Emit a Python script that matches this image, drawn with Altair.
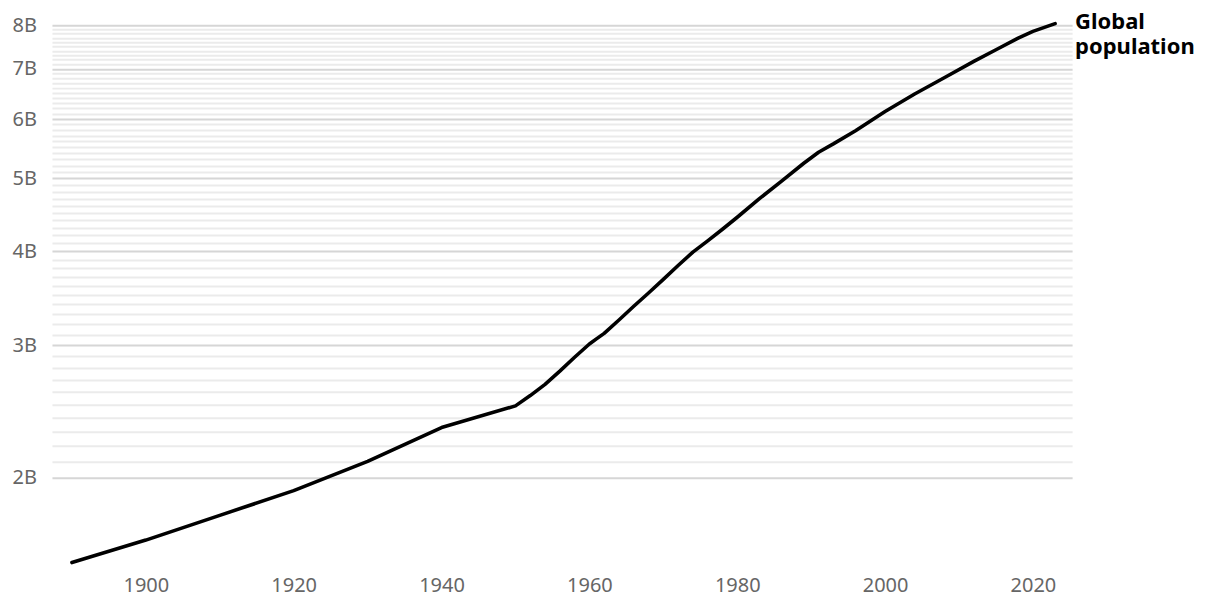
import altair as alt
import pandas as pd

years = [1890, 1900, 1910, 1920, 1930, 1940, 1950, 1952, 1954, 1956, 1958, 1960, 1961, 1962,
         1964, 1966, 1968, 1970, 1972, 1974, 1976, 1978, 1980, 1983, 1986, 1989, 1991, 1993,
         1996, 2000, 2004, 2008, 2012, 2015, 2018, 2020, 2023]
population_b = [1.54, 1.65, 1.78, 1.92, 2.10, 2.33, 2.49, 2.57, 2.66, 2.77, 2.89, 3.01, 3.06, 3.11,
                3.24, 3.38, 3.52, 3.67, 3.83, 3.99, 4.13, 4.28, 4.44, 4.70, 4.96, 5.24, 5.42, 5.56,
                5.79, 6.14, 6.48, 6.81, 7.16, 7.42, 7.69, 7.85, 8.04]

grid_values = [round(2 + 0.1 * i, 1) for i in range(61)]
x_ticks = [1900, 1920, 1940, 1960, 1980, 2000, 2020]
label_text = ["Global", "population"]

df = pd.DataFrame({"year": years, "pop": population_b})
lab = pd.DataFrame({"year": [years[-1]], "pop": [population_b[-1]], "text": [label_text]})

FONT = "Noto Sans"

x = alt.X("year:Q", scale=alt.Scale(domain=[1887.3, 2025.3], nice=False, zero=False),
          axis=alt.Axis(values=x_ticks, format="d", grid=False, domain=False, ticks=False,
                        labelPadding=4, title=None))
y = alt.Y("pop:Q", scale=alt.Scale(type="log", domain=[1.5, 8.1], nice=False, zero=False),
          axis=alt.Axis(values=grid_values, grid=True, domain=False, ticks=False,
                        gridColor={"condition": {"test": "datum.value % 1 === 0", "value": "#d6d6d6"},
                                   "value": "#ebebeb"},
                        gridWidth=2,
                        labelExpr="datum.value % 1 === 0 ? datum.value + 'B' : ''",
                        labelAlign="left", labelPadding=40, title=None))

line = alt.Chart(df).mark_line(color="black", strokeWidth=3.6, strokeCap="round",
                               strokeJoin="round").encode(x=x, y=y)

text = alt.Chart(lab).mark_text(align="left", baseline="top", dx=20, dy=-12, fontSize=22,
                                fontWeight="bold", font=FONT, color="black",
                                lineHeight=25).encode(
    x=alt.X("year:Q"), y=alt.Y("pop:Q"), text="text")

chart = alt.layer(line, text).properties(
    width=1021, height=550.45,
    autosize=alt.AutoSizeParams(type="none"),
    padding={"left": 44, "top": 12.95, "right": 140, "bottom": 30},
).configure_view(stroke=None).configure_axis(
    labelFontSize=20, labelColor="#666666", labelFont=FONT, labelFontWeight="normal"
)

chart.save("out.html", embed_options={"renderer": "svg", "actions": False})
